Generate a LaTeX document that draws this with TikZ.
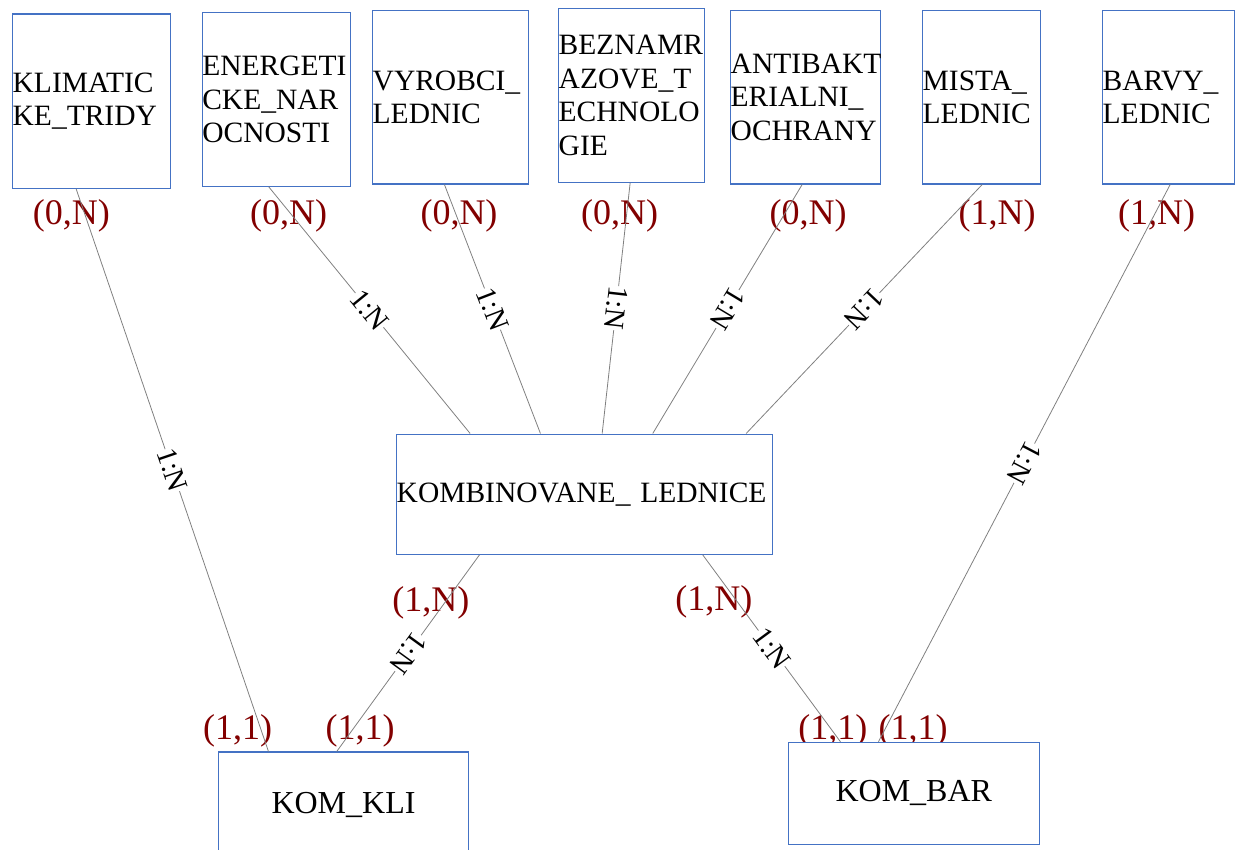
\documentclass[tikz,border=0pt]{standalone}
\usepackage{fontspec}
\setmainfont{Liberation Serif}
\usetikzlibrary{calc}
\definecolor{boxblue}{RGB}{68,114,196}
\definecolor{linkgray}{RGB}{128,128,128}
\definecolor{cardred}{RGB}{130,0,0}
\begin{document}
\begin{tikzpicture}[x=1pt,y=-1pt,
  entity/.style={draw=boxblue, fill=white, line width=1.1pt, inner sep=0pt,
    font=\fontsize{29.5}{33.5}\selectfont, align=left},
  entityc/.style={entity, align=center, font=\fontsize{32}{36}\selectfont},
  link/.style={draw=linkgray, line width=0.8pt},
  ratio/.style={fill=white, inner sep=0.3pt, font=\fontsize{29}{32}\selectfont,
    sloped, allow upside down, midway},
  card/.style={text=cardred, inner sep=0pt, font=\fontsize{36}{40}\selectfont}]
\useasboundingbox (0,0) rectangle (1235,850);

% cardinalities
\node[card] (c1) at (71.3,215.5) {(0,N)};
\node[card] (c2) at (288.7,215.5) {(0,N)};
\node[card] (c3) at (459,215.5) {(0,N)};
\node[card] (c4) at (619.7,215.5) {(0,N)};
\node[card] (c5) at (808,215.5) {(0,N)};
\node[card] (c6) at (997.2,215.5) {(1,N)};
\node[card] (c7) at (1156.7,215.5) {(1,N)};
\node[card] (c8) at (430.8,603) {(1,N)};
\node[card] (c9) at (713.8,602) {(1,N)};
\node[card] (c10) at (237.7,731) {(1,1)};
\node[card] (c11) at (360,731) {(1,1)};
\node[card] (c12) at (832.8,731) {(1,1)};
\node[card] (c13) at (913,731) {(1,1)};

% entities
\node[entity, text width=158pt, minimum height=174.3pt] (klim) at (91.7,101.2) {KLIMATIC\\KE\_TRIDY};
\node[entity, text width=148.4pt, minimum height=173.6pt] (ener) at (276.5,99.5) {ENERGETI\\CKE\_NAR\\OCNOSTI};
\node[entity, text width=156pt, minimum height=173.7pt] (vyro) at (450.7,97.2) {VYROBCI\_\\LEDNIC};
\node[entity, text width=146pt, minimum height=174pt] (bezn) at (631.7,95.3) {BEZNAMR\\AZOVE\_T\\ECHNOLO\\GIE};
\node[entity, text width=150pt, minimum height=173.7pt] (anti) at (805.7,97.2) {ANTIBAKT\\ERIALNI\_\\OCHRANY};
\node[entity, text width=118pt, minimum height=173.7pt] (mist) at (981.7,97.2) {MISTA\_\\LEDNIC};
\node[entity, text width=132pt, minimum height=173.7pt] (barv) at (1168.7,97.2) {BARVY\_\\LEDNIC};
\node[entity, text width=376pt, minimum height=120.3pt] (komb) at (584.7,494.2) {KOMBINOVANE\_ LEDNICE};
\node[entityc, text width=250.4pt, minimum height=106pt] (kli) at (343.5,805) {KOM\_KLI};
\node[entityc, text width=251pt, minimum height=102pt] (bar) at (913.8,793.3) {KOM\_BAR};

% connectors
\draw[link] ($(klim.south west)+(64,0)$) -- node[ratio]{1:N} ($(kli.north west)+(50.7,0)$);
\draw[link] ($(ener.south west)+(67,0)$) -- node[ratio]{1:N} ($(komb.north west)+(74,0)$);
\draw[link] ($(vyro.south west)+(72.3,0)$) -- node[ratio]{1:N} ($(komb.north west)+(144.3,0)$);
\draw[link] ($(bezn.south west)+(72,0)$) -- node[ratio]{1:N} ($(komb.north west)+(206,0)$);
\draw[link] ($(anti.south west)+(72,0)$) -- node[ratio]{1:N} ($(komb.north west)+(256.6,0)$);
\draw[link] ($(mist.south west)+(60,0)$) -- node[ratio]{1:N} ($(komb.north west)+(350,0)$);
\draw[link] ($(barv.south west)+(68,0)$) -- node[ratio]{1:N} ($(bar.north west)+(90.7,0)$);
\draw[link] ($(komb.south west)+(83.3,0)$) -- node[ratio]{1:N} ($(kli.north west)+(119,0)$);
\draw[link] ($(komb.south west)+(306.6,0)$) -- node[ratio]{1:N} ($(bar.north west)+(52.7,0)$);
\end{tikzpicture}
\end{document}
